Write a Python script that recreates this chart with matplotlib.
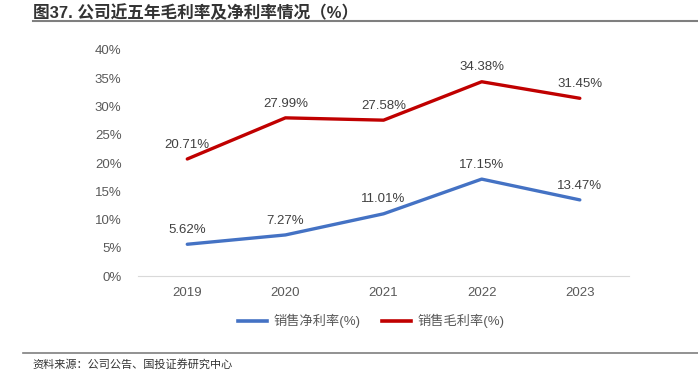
import matplotlib.pyplot as plt
from matplotlib.lines import Line2D

plt.rcParams['font.family'] = ['Liberation Sans', 'Noto Sans CJK SC', 'DejaVu Sans']

# 数据
years = ['2019', '2020', '2021', '2022', '2023']
net_margin = [5.62, 7.27, 11.01, 17.15, 13.47]
gross_margin = [20.71, 27.99, 27.58, 34.38, 31.45]
yticks = [0, 5, 10, 15, 20, 25, 30, 35, 40]

BLUE = '#4472C4'
RED = '#C00000'
GRAY = '#595959'

fig = plt.figure(figsize=(6.98, 3.73), dpi=100)
ax = fig.add_axes([0.198, 0.26, 0.703, 0.606])

x = range(len(years))
ax.plot(x, net_margin, color=BLUE, lw=2.4, solid_capstyle='round')
ax.plot(x, gross_margin, color=RED, lw=2.4, solid_capstyle='round')

for xi, v in zip(x, net_margin):
    ax.annotate(f'{v:.2f}%', (xi, v), xytext=(0, 6), textcoords='offset points',
                ha='center', va='bottom', fontsize=9.5, color='#404040')
for xi, v in zip(x, gross_margin):
    ax.annotate(f'{v:.2f}%', (xi, v), xytext=(0, 6), textcoords='offset points',
                ha='center', va='bottom', fontsize=9.5, color='#404040')

ax.set_xlim(-0.5, len(years) - 0.5)
ax.set_ylim(0, 40)
ax.set_yticks(yticks)
ax.set_yticklabels([f'{t}%' for t in yticks])
ax.set_xticks(list(x))
ax.set_xticklabels(years)
ax.tick_params(axis='both', length=0, labelsize=9.5, colors=GRAY)
ax.tick_params(axis='y', pad=12)
ax.tick_params(axis='x', pad=8)
for s in ['top', 'right', 'left']:
    ax.spines[s].set_visible(False)
ax.spines['bottom'].set_color('#D9D9D9')

# 图例
handles = [Line2D([], [], color=BLUE, lw=2.6), Line2D([], [], color=RED, lw=2.6)]
fig.legend(handles, ['销售净利率(%)', '销售毛利率(%)'], loc='center',
           bbox_to_anchor=(0.532, 0.139), ncol=2, frameon=False, fontsize=9.5,
           labelcolor=GRAY, handlelength=2.2, columnspacing=1.6, handletextpad=0.5)

# 标题和来源
fig.text(0.047, 0.967, '图37. 公司近五年毛利率及净利率情况（%）', fontsize=12,
         fontweight='bold', color='#333333', va='center', ha='left')
fig.add_artist(Line2D([0.047, 1.0], [0.943, 0.943], color='#7F7F7F', lw=1.5))
fig.add_artist(Line2D([0.033, 1.0], [0.054, 0.054], color='#7F7F7F', lw=1.2))
fig.text(0.047, 0.024, '资料来源：公司公告、国投证券研究中心', fontsize=8,
         style='italic', color='#333333', va='center', ha='left')

fig.savefig('out.png', dpi=100)
